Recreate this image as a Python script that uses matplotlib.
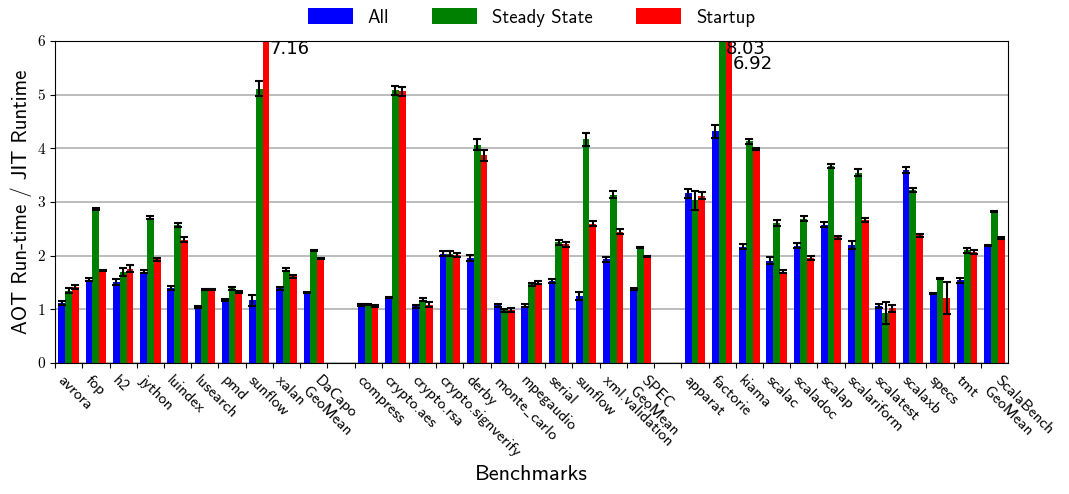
import numpy as np
import matplotlib
matplotlib.use("Agg")
import matplotlib.pyplot as plt

plt.rcParams['font.family'] = ['cmss10', 'DejaVu Sans']
plt.rcParams['axes.unicode_minus'] = False
plt.rcParams['mathtext.fontset'] = 'cm'

benchmarks = ['avrora', 'fop', 'h2', 'jython', 'luindex', 'lusearch', 'pmd',
              'sunflow', 'xalan', 'DaCapo\nGeoMean', '',
              'compress', 'crypto.aes', 'crypto.rsa', 'crypto.signverify',
              'derby', 'monte$\\_$carlo', 'mpegaudio', 'serial', 'sunflow',
              'xml.validation', 'SPEC\nGeoMean', '',
              'apparat', 'factorie', 'kiama', 'scalac', 'scaladoc', 'scalap',
              'scalariform', 'scalatest', 'scalaxb', 'specs', 'tmt',
              'ScalaBench\nGeoMean']

# None marks the empty separator slots between suites
all_vals = [1.12, 1.55, 1.51, 1.70, 1.40, 1.04, 1.18, 1.17, 1.39, 1.32, None,
            1.09, 1.23, 1.06, 2.04, 1.96, 1.08, 1.07, 1.53, 1.25, 1.93, 1.38, None,
            3.16, 4.32, 2.17, 1.91, 2.19, 2.58, 2.20, 1.07, 3.60, 1.29, 1.54, 2.19]
steady_vals = [1.35, 2.87, 1.70, 2.71, 2.57, 1.37, 1.39, 5.11, 1.74, 2.10, None,
               1.10, 5.08, 1.18, 2.04, 4.07, 0.98, 1.47, 2.25, 4.17, 3.14, 2.16, None,
               3.03, 8.03, 4.13, 2.61, 2.69, 3.67, 3.55, 0.93, 3.23, 1.57, 2.10, 2.83]
startup_vals = [1.42, 1.73, 1.76, 1.93, 2.30, 1.37, 1.32, 7.16, 1.62, 1.94, None,
                1.07, 5.06, 1.09, 2.02, 3.87, 0.99, 1.50, 2.21, 2.60, 2.45, 1.99, None,
                3.12, 6.92, 3.99, 1.70, 1.96, 2.34, 2.67, 1.02, 2.38, 1.21, 2.07, 2.33]

all_err = [0.03, 0.03, 0.05, 0.03, 0.04, 0.02, 0.02, 0.10, 0.03, 0.01, None,
           0.02, 0.01, 0.03, 0.04, 0.05, 0.03, 0.03, 0.04, 0.07, 0.04, 0.01, None,
           0.08, 0.12, 0.04, 0.06, 0.04, 0.04, 0.08, 0.04, 0.05, 0.01, 0.04, 0.01]
steady_err = [0.04, 0.02, 0.08, 0.03, 0.04, 0.01, 0.03, 0.14, 0.03, 0.01, None,
              0.01, 0.08, 0.03, 0.05, 0.10, 0.03, 0.03, 0.05, 0.12, 0.06, 0.01, None,
              0.18, 0.0, 0.04, 0.05, 0.05, 0.04, 0.07, 0.20, 0.04, 0.01, 0.04, 0.01]
startup_err = [0.04, 0.01, 0.07, 0.03, 0.04, 0.01, 0.02, 0.0, 0.03, 0.01, None,
               0.02, 0.08, 0.04, 0.04, 0.10, 0.03, 0.03, 0.05, 0.04, 0.05, 0.01, None,
               0.06, 0.0, 0.02, 0.03, 0.04, 0.03, 0.04, 0.07, 0.03, 0.30, 0.04, 0.01]

series = [('All', all_vals, all_err, '#0000ff'),
          ('Steady State', steady_vals, steady_err, '#008000'),
          ('Startup', startup_vals, startup_err, '#ff0000')]

ymax = 6
width = 0.25
x = np.arange(len(benchmarks))

fig = plt.figure(figsize=(10.69, 4.94), dpi=100)
ax = fig.add_axes([0.0515, 0.265, 0.8915, 0.652])

for k, (name, vals, errs, color) in enumerate(series):
    idx = [i for i, v in enumerate(vals) if v is not None]
    pos = x[idx] + 0.5 + (k - 1) * width
    h = np.array([vals[i] for i in idx])
    e = np.array([errs[i] for i in idx])
    ax.bar(pos, h, width, color=color, label=name, zorder=2)
    ax.errorbar(pos, h, yerr=e, fmt='none', ecolor='black', elinewidth=1.5,
                capsize=3, capthick=1.5, zorder=3)

# values that run off the top of the axis, stacked when several share a group
for i in x:
    over = [k for k, s in enumerate(series) if s[1][i] is not None and s[1][i] > ymax]
    for n, k in enumerate(over):
        ax.text(i + 0.5 + (k - 1) * width + width / 2, ymax - 0.15 - 0.27 * n,
                '%.2f' % series[k][1][i], family='DejaVu Sans', fontsize=13,
                ha='left', va='center', zorder=4)

ax.set_xlim(0, len(benchmarks))
ax.set_ylim(0, ymax)
ax.set_xticks(x)
ax.set_xticklabels(benchmarks, rotation=-45, ha='left', fontsize=11.5)
ax.set_yticks(range(0, 7))
ax.set_yticklabels([str(v) for v in range(0, 7)], fontsize=11, family='cmr10')
ax.yaxis.grid(True, color='#b0b0b0', linewidth=1.2, zorder=0)
ax.set_axisbelow(True)
ax.set_xlabel('Benchmarks', fontsize=16)
ax.set_ylabel('AOT Run-time / JIT Runtime', fontsize=15)
ax.legend(loc='lower center', bbox_to_anchor=(0.5, 1.01), ncol=3, frameon=False,
          fontsize=13.5, handlelength=2.4, handleheight=1.0, columnspacing=2.3,
          borderaxespad=0.2)

fig.savefig('out.png', dpi=100)
